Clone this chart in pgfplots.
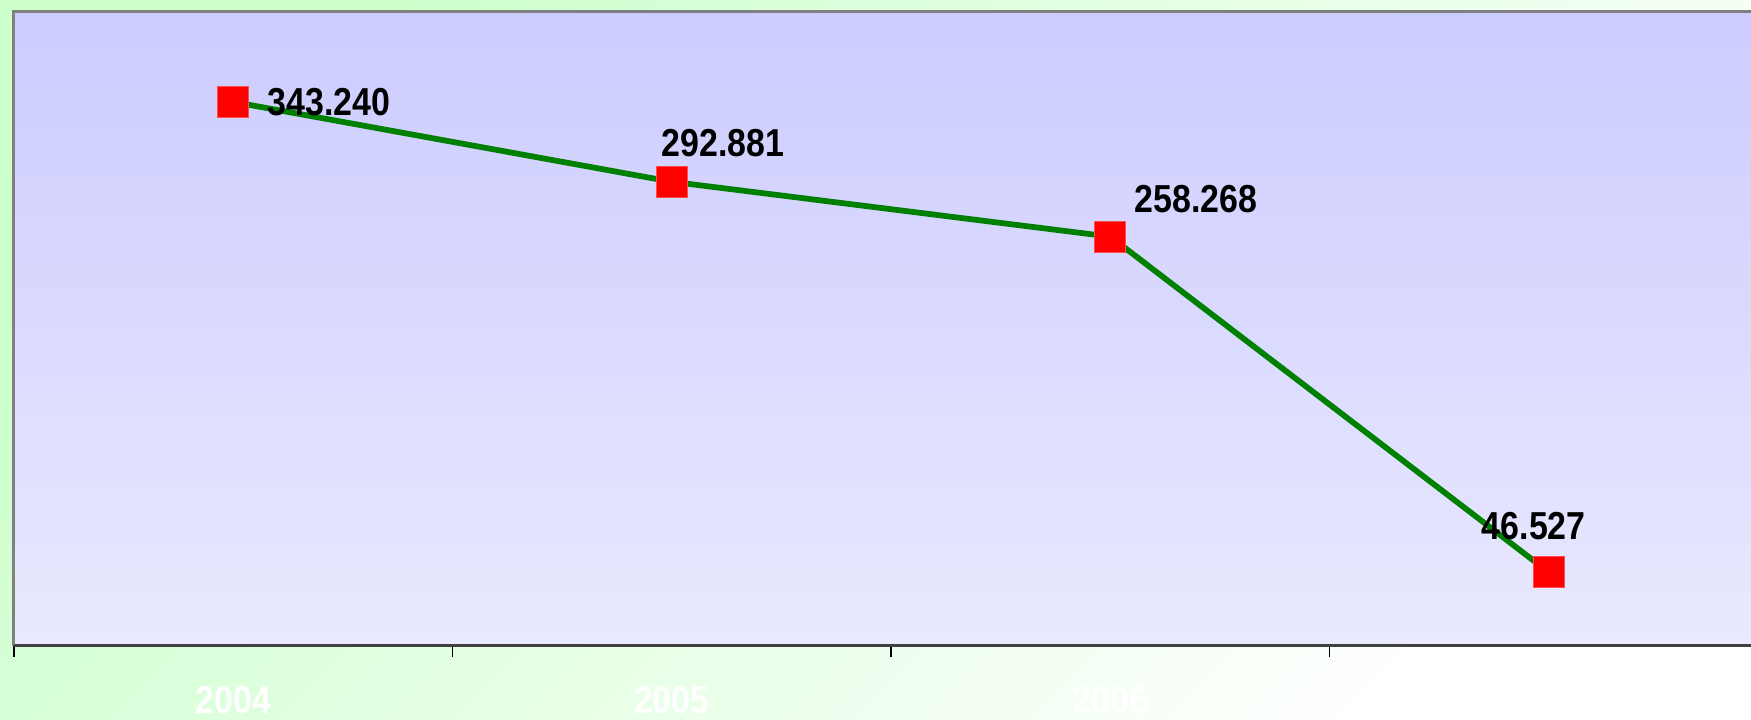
\documentclass[border=0pt]{standalone}
\usepackage{pgfplots}
\pgfplotsset{compat=1.18}
\usepackage{pgfplotstable}
\usepackage{fontspec}
\setmainfont{Liberation Sans}
\usepackage{graphicx}
\definecolor{bgA}{RGB}{204,255,204}
\definecolor{plotTop}{RGB}{204,204,255}
\definecolor{plotBot}{RGB}{233,233,255}
\definecolor{lineG}{RGB}{0,128,0}
\definecolor{frameG}{RGB}{128,128,128}
\newcommand\nb[1]{\scalebox{0.87}[1]{#1}}
\pgfplotstableread{
x y dx dy lbl
0.5 343.240 38.4 0 343.240
1.5 292.881 20.4 15.3 292.881
2.5 258.268 34.4 15.2 258.268
3.5 46.527 -6 18.4 46.527
}\data
\begin{document}
\begin{tikzpicture}
\useasboundingbox (0,0) rectangle (700.4pt,288pt);
\clip (0,0) rectangle (700.4pt,288pt);
\shade[top color=bgA, bottom color=white, shading angle=45] (0,0) rectangle (700.4pt,288pt);
\begin{axis}[
  at={(5.6pt,29.6pt)}, anchor=south west,
  scale only axis, width=701.6pt, height=253.6pt,
  xmin=0, xmax=4, ymin=0, ymax=400,
  ytick=\empty,
  xtick={0,1,2,3,4},
  x tick label as interval,
  xticklabels={\nb{2004},\nb{2005},\nb{2006},\nb{1º Quad. 2007}},
  axis background/.style={shade, top color=plotTop, bottom color=plotBot},
  axis line style={draw=none},
  tick align=outside, xtick pos=bottom,
  major tick length=4.4pt,
  tick style={black, line width=0.5pt},
  xticklabel style={font=\fontsize{15.6}{18}\selectfont\bfseries, text=white, anchor=base, yshift=-22.5pt},
  clip=false,
]
\addplot[lineG, line width=2.3pt, mark=square*, mark size=6.2pt,
  mark options={fill=red, draw=red!70!white, line width=0.4pt},
  point meta=explicit symbolic,
  nodes near coords={\nb{\pgfplotspointmeta}},
  visualization depends on={\thisrow{dx} \as \dx},
  visualization depends on={\thisrow{dy} \as \dy},
  every node near coord/.append style={anchor=center, inner sep=0pt, xshift=\dx pt, yshift=\dy pt, font=\fontsize{15.6}{18}\selectfont\bfseries, text=black},
] table[x=x, y=y, meta=lbl] {\data};
\draw[frameG, line width=1.2pt] (rel axis cs:0,0) -- (rel axis cs:0,1) -- (rel axis cs:1,1);
\draw[black!75, line width=1.2pt] (rel axis cs:0,0) -- (rel axis cs:1,0);
\end{axis}
\end{tikzpicture}
\end{document}
